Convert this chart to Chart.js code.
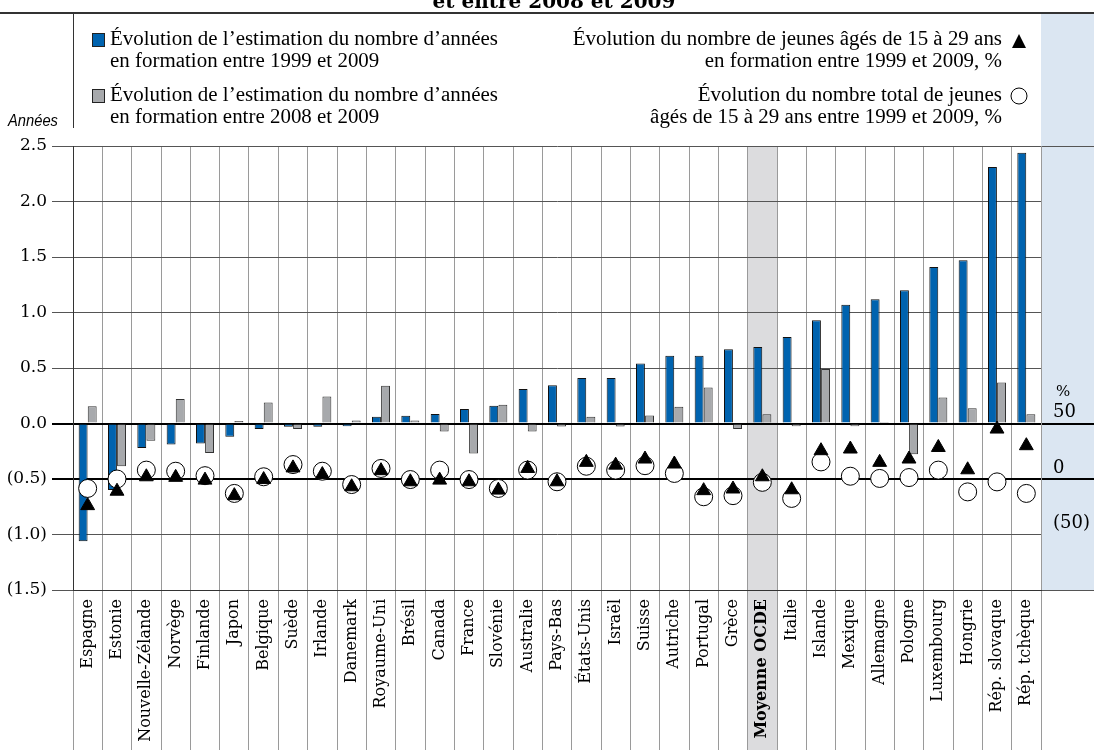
<!DOCTYPE html>
<html lang="fr">
<head>
<meta charset="utf-8">
<title>Évolution du nombre d'années en formation</title>
<script src="https://cdn.jsdelivr.net/npm/chart.js@4/dist/chart.umd.min.js"></script>
<style>
  html, body { margin: 0; padding: 0; background: #fff; }
  #wrap { width: 1094px; height: 750px; }
</style>
</head>
<body>
<div id="wrap"><canvas id="chart" width="1094" height="750"></canvas></div>
<script>
// Countries, sorted by the 1999-2009 change
const countries = [
    'Espagne', 'Estonie', 'Nouvelle-Zélande', 'Norvège', 'Finlande', 'Japon',
    'Belgique', 'Suède', 'Irlande', 'Danemark', 'Royaume-Uni', 'Brésil', 'Canada',
    'France', 'Slovénie', 'Australie', 'Pays-Bas', 'États-Unis', 'Israël', 'Suisse',
    'Autriche', 'Portugal', 'Grèce', 'Moyenne OCDE', 'Italie', 'Islande', 'Mexique',
    'Allemagne', 'Pologne', 'Luxembourg', 'Hongrie', 'Rép. slovaque', 'Rép. tchèque'
];
const averageLabel = 'Moyenne OCDE';

// Change in expected years in education (years)
const change1999to2009 = [
    -1.06, -0.60, -0.22, -0.19, -0.18, -0.12, -0.05, -0.03, -0.03, -0.025, 0.06,
    0.07, 0.086, 0.13, 0.16, 0.31, 0.345, 0.41, 0.41, 0.54, 0.61, 0.61, 0.67,
    0.69, 0.78, 0.93, 1.07, 1.12, 1.20, 1.41, 1.47, 2.31, 2.44
];
const change2008to2009 = [
    0.155, -0.385, -0.155, 0.22, -0.265, 0.023, 0.19, -0.05, 0.243, 0.027, 0.34,
    0.027, -0.072, -0.27, 0.17, -0.072, -0.027, 0.06, -0.027, 0.072, 0.15, 0.324,
    -0.05, 0.084, -0.025, 0.49, -0.025, 0.014, -0.277, 0.234, 0.138, 0.37, 0.084
];

// Change in number of 15-29 year-olds (%), right axis
const enrolledPct = [
    -24, -11, 2, 1.5, -1, -15, -0.5, 10, 4, -7, 7.5,
    -2.5, -1, -2.5, -10, 9.5, -2.5, 15, 12.5, 18, 13.5, -10.5,
    -9, 2, -9.7, 25.5, 27, 15, 18, 28.4, 8.3, 45, 30
];
const totalPct = [
    -8.5, 0, 8, 7, 3, -13, 2, 13, 7, -5, 9.5,
    -0.5, 8, -0.5, -8.5, 8, -2.5, 11.5, 8, 12, 5, -16,
    -15, -3, -17.5, 15.4, 2.5, 0.5, 1.3, 8, -11.6, -2.6, -13
];

// Axis ticks
const yearTicks = [-1.5, -1.0, -0.5, 0.0, 0.5, 1.0, 1.5, 2.0, 2.5];
const pctTicks = [-50, 0, 50];

const BLUE = '#0063af';
const GREY = '#a7a9ac';
const BAND = '#dbe6f2';
const SERIF = "'DejaVu Serif', serif";

Chart.defaults.font.family = SERIF;
Chart.defaults.color = '#000';

function fmtParen(v, digits) {
    const s = Math.abs(v).toFixed(digits);
    return v < 0 ? '(' + s + ')' : s;
}

// draw a text squeezed to a narrower look
function condensedText(ctx, text, x, y, align, sx) {
    const w = ctx.measureText(text).width * sx;
    const left = align === 'right' ? x - w : x;
    ctx.save();
    ctx.translate(left, y);
    ctx.scale(sx, 1);
    ctx.textAlign = 'left';
    ctx.fillText(text, 0, 0);
    ctx.restore();
}

const decorPlugin = {
    id: 'decor',
    beforeDraw(chart) {
        const ctx = chart.ctx;
        const area = chart.chartArea;
        const x = chart.scales.x;
        const y = chart.scales.y;
        const W = chart.width;

        // title (cut at top) and rule under it
        ctx.save();
        ctx.fillStyle = '#000';
        ctx.font = "bold 20px " + SERIF;
        ctx.textAlign = 'center';
        ctx.textBaseline = 'alphabetic';
        ctx.fillText('et entre 2008 et 2009', 554, 8);
        ctx.strokeStyle = '#333';
        ctx.lineWidth = 2;
        ctx.beginPath();
        ctx.moveTo(0, 13);
        ctx.lineTo(W, 13);
        ctx.stroke();

        // blue band on the right, behind % axis
        const bottom = y.getPixelForValue(-1.5);
        ctx.fillStyle = BAND;
        ctx.fillRect(area.right, 14, W - area.right, bottom - 14);

        // OECD average column highlight
        const idx = countries.indexOf(averageLabel);
        const cw = (area.right - area.left) / countries.length;
        const cx = x.getPixelForValue(idx);
        ctx.fillStyle = '#dcdcde';
        ctx.fillRect(cx - cw / 2, area.top, cw, chart.height - area.top);

        // legend frame line
        ctx.strokeStyle = '#333';
        ctx.lineWidth = 1;
        ctx.beginPath();
        ctx.moveTo(area.left + 0.5, 14);
        ctx.lineTo(area.left + 0.5, 128);
        ctx.stroke();

        // horizontal lines running into the band
        [2.5, 0, -0.5, -1.5].forEach(v => {
            const py = Math.round(y.getPixelForValue(v));
            const bold = (v === 0 || v === -0.5);
            ctx.strokeStyle = bold ? '#000' : '#555';
            ctx.lineWidth = bold ? 2 : 1;
            ctx.beginPath();
            ctx.moveTo(area.right, py + (bold ? 0 : 0.5));
            ctx.lineTo(W, py + (bold ? 0 : 0.5));
            ctx.stroke();
        });

        // % unit above the right axis
        const p50 = chart.scales.y2.getPixelForValue(50);
        ctx.fillStyle = '#000';
        ctx.font = "15px " + SERIF;
        ctx.textAlign = 'left';
        ctx.textBaseline = 'middle';
        ctx.fillText('%', 1056, p50 - 31);

        // legend
        ctx.font = "20px 'Liberation Serif', serif";
        ctx.textBaseline = 'middle';
        const sx = 388 / ctx.measureText('Évolution de l’estimation du nombre d’années').width;

        ctx.fillStyle = BLUE;
        ctx.fillRect(92, 33, 12, 13);
        ctx.strokeStyle = '#222';
        ctx.strokeRect(92.5, 33.5, 12, 13);
        ctx.fillStyle = GREY;
        ctx.fillRect(92, 89, 12, 13);
        ctx.strokeRect(92.5, 89.5, 12, 13);

        ctx.fillStyle = '#000';
        condensedText(ctx, 'Évolution de l’estimation du nombre d’années', 110, 40, 'left', sx);
        condensedText(ctx, 'en formation entre 1999 et 2009', 110, 62, 'left', sx);
        condensedText(ctx, 'Évolution de l’estimation du nombre d’années', 110, 96, 'left', sx);
        condensedText(ctx, 'en formation entre 2008 et 2009', 110, 118, 'left', sx);

        condensedText(ctx, 'Évolution du nombre de jeunes âgés de 15 à 29 ans', 1002, 40, 'right', sx);
        condensedText(ctx, 'en formation entre 1999 et 2009, %', 1002, 62, 'right', sx);
        condensedText(ctx, 'Évolution du nombre total de jeunes', 1002, 96, 'right', sx);
        condensedText(ctx, 'âgés de 15 à 29 ans entre 1999 et 2009, %', 1002, 118, 'right', sx);

        // legend markers
        ctx.beginPath();
        ctx.moveTo(1019, 34);
        ctx.lineTo(1026, 48);
        ctx.lineTo(1012, 48);
        ctx.closePath();
        ctx.fill();
        ctx.beginPath();
        ctx.arc(1019, 96, 8, 0, Math.PI * 2);
        ctx.fillStyle = '#fff';
        ctx.fill();
        ctx.strokeStyle = '#000';
        ctx.lineWidth = 1;
        ctx.stroke();

        // axis caption
        ctx.fillStyle = '#000';
        ctx.font = "italic 16px 'Liberation Sans', sans-serif";
        condensedText(ctx, 'Années', 8, 122, 'left', 0.92);
        ctx.restore();
    }
};

const ctx = document.getElementById('chart').getContext('2d');
new Chart(ctx, {
    type: 'bar',
    data: {
        labels: countries,
        datasets: [
            {
                type: 'line',
                label: 'Évolution du nombre de jeunes âgés de 15 à 29 ans en formation entre 1999 et 2009, %',
                data: enrolledPct,
                yAxisID: 'y2',
                showLine: false,
                pointStyle: 'triangle',
                pointRadius: 8,
                backgroundColor: '#000',
                borderColor: '#000',
                borderWidth: 1,
                order: 0
            },
            {
                type: 'line',
                label: 'Évolution du nombre total de jeunes âgés de 15 à 29 ans entre 1999 et 2009, %',
                data: totalPct,
                yAxisID: 'y2',
                showLine: false,
                pointStyle: 'circle',
                pointRadius: 9,
                backgroundColor: '#fff',
                borderColor: '#000',
                borderWidth: 1,
                order: 1
            },
            {
                label: 'Évolution de l’estimation du nombre d’années en formation entre 1999 et 2009',
                data: change1999to2009,
                yAxisID: 'y',
                backgroundColor: BLUE,
                borderColor: '#111',
                borderWidth: 1,
                categoryPercentage: 0.62,
                barPercentage: 0.98,
                order: 2
            },
            {
                label: 'Évolution de l’estimation du nombre d’années en formation entre 2008 et 2009',
                data: change2008to2009,
                yAxisID: 'y',
                backgroundColor: GREY,
                borderColor: '#333',
                borderWidth: 1,
                categoryPercentage: 0.62,
                barPercentage: 0.98,
                order: 2
            }
        ]
    },
    options: {
        responsive: false,
        animation: false,
        layout: { padding: { top: 146, left: 0, right: 0, bottom: 0 } },
        plugins: {
            legend: { display: false },
            tooltip: { enabled: false }
        },
        scales: {
            x: {
                grid: {
                    offset: true,
                    color: '#9a9a9a',
                    lineWidth: 1,
                    tickLength: 160
                },
                border: { color: '#333' },
                ticks: {
                    autoSkip: false,
                    minRotation: 90,
                    maxRotation: 90,
                    padding: -151,
                    color: '#000',
                    font: c => ({ size: 16, weight: countries[c.index] === averageLabel ? 'bold' : 'normal' })
                },
                afterFit: s => { s.height = 160; }
            },
            y: {
                min: -1.5,
                max: 2.5,
                afterBuildTicks: s => { s.ticks = yearTicks.map(v => ({ value: v })); },
                ticks: {
                    padding: 5,
                    font: { size: 17 },
                    callback: v => fmtParen(v, 1)
                },
                grid: {
                    tickLength: 21,
                    color: c => (c.tick && (c.tick.value === 0 || c.tick.value === -0.5)) ? '#000' : '#555',
                    lineWidth: c => (c.tick && (c.tick.value === 0 || c.tick.value === -0.5)) ? 2 : 1
                },
                border: { color: '#333' },
                afterFit: s => { s.width = 73; }
            },
            y2: {
                position: 'right',
                min: -100,
                max: 300,
                afterBuildTicks: s => { s.ticks = pctTicks.map(v => ({ value: v })); },
                ticks: {
                    padding: 12,
                    labelOffset: -11,
                    font: { size: 18 },
                    callback: v => fmtParen(v, 0)
                },
                grid: { display: false, drawTicks: false },
                border: { display: false },
                afterFit: s => { s.width = 53; }
            }
        }
    },
    plugins: [decorPlugin]
});
</script>
</body>
</html>
